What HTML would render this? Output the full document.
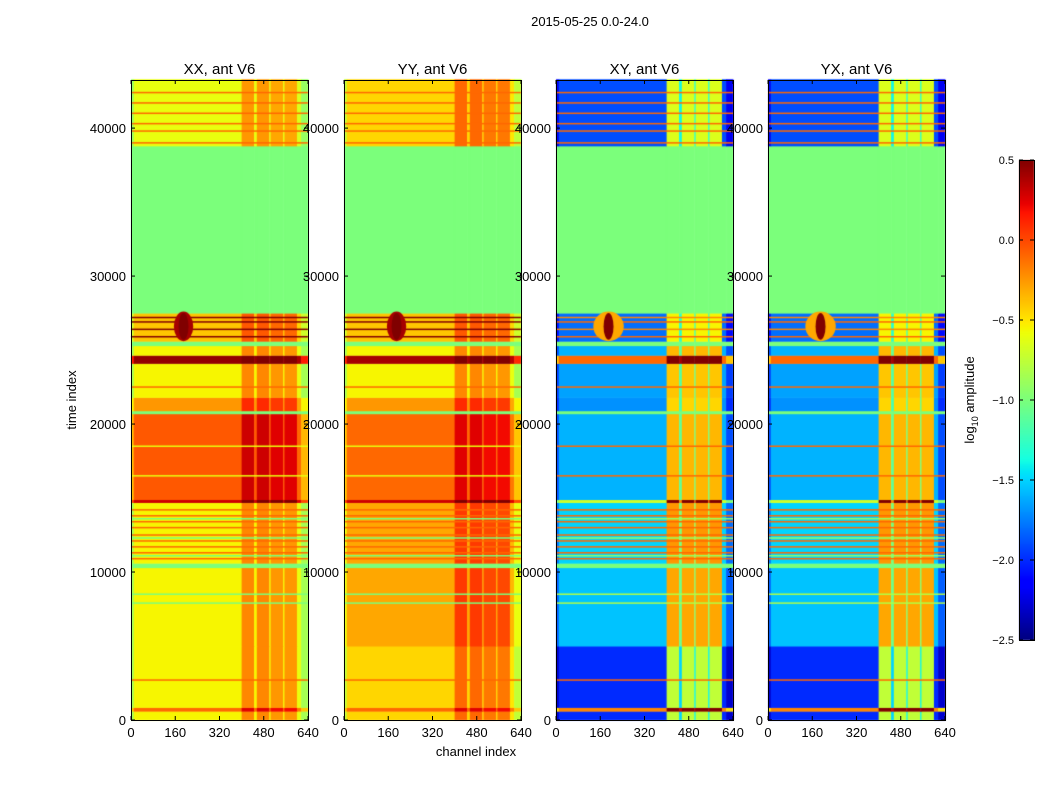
<!DOCTYPE html>
<html><head><meta charset="utf-8">
<style>
html,body{margin:0;padding:0;background:#fff;}
#wrap{position:relative;width:1050px;height:800px;overflow:hidden;font-family:"Liberation Sans",sans-serif;}
canvas,svg{position:absolute;left:0;top:0;}
</style></head>
<body>
<div id="wrap">
<canvas id="cv" width="1050" height="800"></canvas>
<svg id="ov" width="1050" height="800"></svg>
</div>
<script>
// ---- data ----
const panelTitles = ["XX, ant V6","YY, ant V6","XY, ant V6","YX, ant V6"];
const xTicks = [0,160,320,480,640];
const yTicks = [0,10000,20000,30000,40000];
const cbTicks = [0.5,0.0,-0.5,-1.0,-1.5,-2.0,-2.5];
const bandStart = [0,600,850,5000,10300,10600,14700,14900,20700,20900,21800,24100,24650,25300,25600,27500,38800];
const bandEnd   = [600,850,5000,10300,10600,14700,14900,20700,20900,21800,24100,24650,25300,25600,27500,38800,43300];
const bandFlag  = [0,0,0,0,1,0,0,0,1,0,0,0,0,1,0,1,0];
const bandXX = [-0.55,-0.1,-0.55,-0.55,-1.0,-0.55,0.3,-0.05,-1.0,-0.25,-0.55,0.45,-0.55,-1.0,-0.4,-1.0,-0.6];
const bandYY = [-0.45,-0.1,-0.45,-0.3,-1.0,-0.3,0.3,-0.1,-1.0,-0.25,-0.55,0.4,-0.55,-1.0,-0.4,-1.0,-0.45];
const bandXY = [-2.0,-0.2,-2.0,-1.55,-1.0,-1.5,-0.7,-1.6,-1.0,-1.7,-1.65,-0.1,-1.6,-1.0,-1.8,-1.0,-1.9];
const bandYX = [-2.0,-0.2,-2.0,-1.55,-1.0,-1.5,-0.7,-1.6,-1.0,-1.7,-1.65,-0.1,-1.6,-1.0,-1.8,-1.0,-1.9];
const chanStart = [0,10,400,445,455,500,505,550,555,600,615];
const chanEnd   = [10,400,445,455,500,505,550,555,600,615,640];
const chanOffPar = [-0.3,0,0.35,0.0,0.35,0.0,0.3,0.0,0.3,-0.05,-0.3];
const chanOffCross = [-0.3,0,1.25,0.5,1.25,0.6,1.25,0.6,1.25,0,-0.3];
const lineTimes = [2700,7900,8500,10900,11100,11300,11700,12100,12300,12500,13000,13400,13600,13800,14200,16500,18500,22500,25900,26400,26900,27200,39000,39800,40300,41000,41700,42400];
const lineValPar = [-0.1,-1.0,-1.0,-0.1,-1.0,-0.1,-0.1,-0.1,-1.0,-0.1,-0.1,-0.1,-1.0,-0.1,-0.1,-0.6,-0.6,-0.1,0.5,0.5,0.5,0.5,-0.1,-0.1,-0.1,-0.1,-0.1,-0.1];
const lineValCross = [-0.1,-0.8,-0.8,-0.1,-0.9,-0.1,-0.1,-0.1,-0.9,-0.1,-0.1,-0.1,-0.9,-0.1,-0.1,-0.1,-0.1,-0.1,-0.1,-0.2,-0.1,-0.2,-0.1,-0.1,-0.1,-0.1,-0.1,-0.1];
const blobChan = 190, blobTime = 26600;
const blobCorePar = 0.5, blobHaloPar = 0.4, blobCoreCross = 0.5, blobHaloCross = -0.3;

// ---- layout ----
const panelX = [131,344,556,768], panelW = 177, plotTop = 80, plotBottom = 720;
const tMax = 43250, cMax = 640, vMin = -2.5, vMax = 0.5;
const xs = (p,c)=>panelX[p]+c/cMax*panelW;
const ys = t=>plotBottom-t/tMax*(plotBottom-plotTop);
const jr=[[0,0],[0.35,0],[0.66,1],[0.89,1],[1,0.5]];
const jg=[[0,0],[0.125,0],[0.375,1],[0.64,1],[0.91,0],[1,0]];
const jb=[[0,0.5],[0.11,1],[0.34,1],[0.65,0],[1,0]];
function seg(s,t){for(let i=1;i<s.length;i++){if(t<=s[i][0]){const a=s[i-1],b=s[i];return a[1]+(b[1]-a[1])*(t-a[0])/(b[0]-a[0]);}}return s[s.length-1][1];}
function jet(v){
  const t=(Math.min(vMax,Math.max(vMin,v))-vMin)/(vMax-vMin);
  const cl=x=>Math.round(255*Math.max(0,Math.min(1,x)));
  return `rgb(${cl(seg(jr,t))},${cl(seg(jg,t))},${cl(seg(jb,t))})`;
}
const cv=document.getElementById('cv'), ctx=cv.getContext('2d');
const bandsAll=[bandXX,bandYY,bandXY,bandYX];
for(let p=0;p<4;p++){
  const cross=p>=2, off=cross?chanOffCross:chanOffPar, bands=bandsAll[p];
  for(let b=0;b<bandStart.length;b++){
    for(let c=0;c<chanStart.length;c++){
      const v = bandFlag[b] ? bands[b] : bands[b]+off[c];
      ctx.fillStyle=jet(v);
      const x0=xs(p,chanStart[c]), x1=xs(p,chanEnd[c]);
      const y0=ys(bandEnd[b]), y1=ys(bandStart[b]);
      ctx.fillRect(x0,y0,x1-x0+0.5,y1-y0+0.5);
    }
  }
  const lv=cross?lineValCross:lineValPar;
  for(let i=0;i<lineTimes.length;i++){
    ctx.fillStyle=jet(lv[i]);
    ctx.fillRect(panelX[p],ys(lineTimes[i])-0.75,panelW,1.5);
  }
  ctx.fillStyle=jet(cross?blobHaloCross:blobHaloPar);
  ctx.beginPath();
  ctx.ellipse(xs(p,blobChan),ys(blobTime),xs(p,cross?55:35)-xs(p,0),ys(0)-ys(1000),0,0,Math.PI*2);
  ctx.fill();
  ctx.fillStyle=jet(cross?blobCoreCross:blobCorePar);
  ctx.beginPath();
  ctx.ellipse(xs(p,blobChan),ys(blobTime),xs(p,18)-xs(p,0),ys(0)-ys(900),0,0,Math.PI*2);
  ctx.fill();
}
// colorbar
const cbX=1019, cbW=15, cbTop=160, cbBot=640;
for(let y=cbTop;y<cbBot;y++){
  ctx.fillStyle=jet(vMax-(y-cbTop+0.5)/(cbBot-cbTop)*(vMax-vMin));
  ctx.fillRect(cbX,y,cbW,1);
}
// ---- overlay ----
const svg=document.getElementById('ov'), NS='http://www.w3.org/2000/svg';
function mk(tag,attrs,txt){const e=document.createElementNS(NS,tag);for(const k in attrs)e.setAttribute(k,attrs[k]);if(txt!==undefined)e.textContent=txt;svg.appendChild(e);return e;}
let e=mk('text',{x:590,y:26,'font-size':13,'text-anchor':'middle'},'2015-05-25 0.0-24.0');


for(let p=0;p<4;p++){
  const r=mk('rect',{x:panelX[p]+0.5,y:plotTop+0.5,width:panelW,height:plotBottom-plotTop,fill:'none',stroke:'#000'});
  
  
  const t=mk('text',{x:panelX[p]+panelW/2,y:74,'font-size':15,'text-anchor':'middle'},panelTitles[p]);
  
  
  xTicks.forEach(v=>{
    const x=xs(p,v);
    mk('line',{x1:x,x2:x,y1:plotBottom,y2:plotBottom-4,stroke:'#000'});
    mk('line',{x1:x,x2:x,y1:plotTop,y2:plotTop+4,stroke:'#000'});
    const l=mk('text',{x:x,y:plotBottom+17,'font-size':13,'text-anchor':'middle'},String(v));
    
    
  });
  yTicks.forEach(v=>{
    const y=ys(v);
    mk('line',{x1:panelX[p],x2:panelX[p]+4,y1:y,y2:y,stroke:'#000'});
    mk('line',{x1:panelX[p]+panelW,x2:panelX[p]+panelW-4,y1:y,y2:y,stroke:'#000'});
    const l=mk('text',{x:panelX[p]-5,y:y+5,'font-size':13,'text-anchor':'end'},String(v));
    
    
  });
}
e=mk('text',{x:476,y:756,'font-size':13,'text-anchor':'middle'},'channel index');


e=mk('text',{x:0,y:0,'font-size':13,'text-anchor':'middle',transform:'translate(76,400) rotate(-90)'},'time index');


e=mk('rect',{x:cbX+0.5,y:cbTop+0.5,width:cbW,height:cbBot-cbTop,fill:'none',stroke:'#000'});


cbTicks.forEach(v=>{
  const y=cbTop+(vMax-v)/(vMax-vMin)*(cbBot-cbTop);
  mk('line',{x1:cbX,x2:cbX+4,y1:y,y2:y,stroke:'#000'});
  mk('line',{x1:cbX+cbW,x2:cbX+cbW-4,y1:y,y2:y,stroke:'#000'});
  const l=mk('text',{x:cbX-5,y:y+4,'font-size':11,'text-anchor':'end'},v.toFixed(1).replace('-','\u2212'));
  
  
});
e=mk('text',{x:0,y:0,'font-size':13,'text-anchor':'middle',transform:'translate(974,400) rotate(-90)'});
e.appendChild(document.createTextNode('log'));
const ts1=document.createElementNS(NS,'tspan');ts1.setAttribute('font-size','9');ts1.setAttribute('dy','4');ts1.textContent='10';e.appendChild(ts1);
const ts2=document.createElementNS(NS,'tspan');ts2.setAttribute('dy','-4');ts2.textContent=' amplitude';e.appendChild(ts2);


</script>
</body></html>
